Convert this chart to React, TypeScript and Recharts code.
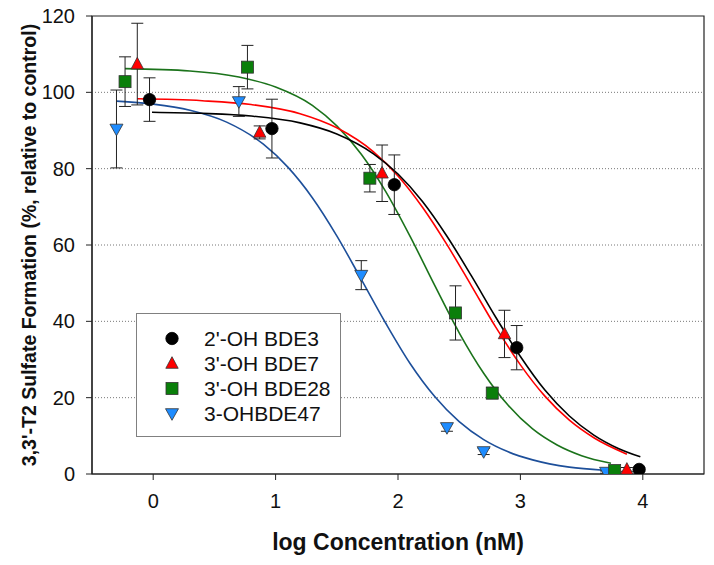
import React from 'react';
import {
  ComposedChart, Line, Scatter, XAxis, YAxis, ErrorBar, ReferenceLine, ReferenceArea,
} from 'recharts';

// ---- measured points ----
const bde3X = [-0.03, 0.97, 1.97, 2.97, 3.97];
const bde3Y = [98.1, 90.5, 75.8, 33.1, 1.2];
const bde3Err = [5.7, 7.7, 7.8, 5.8, 0.5];

const bde7X = [-0.13, 0.87, 1.87, 2.87, 3.87];
const bde7Y = [107.4, 89.5, 78.8, 36.7, 1.2];
const bde7Err = [10.7, 1.7, 7.4, 6.2, 0.5];

const bde28X = [-0.23, 0.77, 1.77, 2.47, 2.77, 3.77];
const bde28Y = [102.8, 106.6, 77.5, 42.2, 21.2, 0.9];
const bde28Err = [6.5, 5.7, 3.6, 7.1, 1.5, 0.5];

const bde47X = [-0.3, 0.7, 1.7, 2.4, 2.7, 3.7];
const bde47Y = [90.4, 97.6, 52.1, 12.2, 5.9, 0.5];
const bde47Err = [10.2, 3.9, 3.8, 1.0, 0.8, 0.3];

// ---- fitted curves ----
const fit3X = [-0.01, 0.4, 0.8, 1.2, 1.5, 1.8, 2.0, 2.2, 2.4, 2.6, 2.8, 3.0, 3.2, 3.4, 3.6, 3.8, 3.98];
const fit3Y = [94.8, 94.5, 93.8, 92.0, 89.1, 83.9, 78.6, 71.4, 62.3, 51.9, 41.0, 30.8, 22.0, 15.2, 10.2, 6.7, 4.5];

const fit7X = [-0.13, 0.4, 0.8, 1.2, 1.5, 1.8, 2.0, 2.2, 2.4, 2.6, 2.8, 3.0, 3.2, 3.4, 3.6, 3.87];
const fit7Y = [98.3, 97.8, 96.8, 94.4, 90.7, 84.4, 78.1, 69.9, 60.1, 49.3, 38.4, 28.6, 20.4, 14.1, 9.5, 5.2];

const fit28X = [-0.23, 0.3, 0.7, 1.0, 1.3, 1.5, 1.7, 1.9, 2.1, 2.3, 2.5, 2.7, 2.9, 3.1, 3.3, 3.5, 3.74];
const fit28Y = [106.2, 105.6, 104.0, 101.4, 96.6, 91.2, 83.8, 74.0, 62.2, 49.4, 37.0, 26.4, 18.0, 11.8, 7.6, 4.8, 2.8];

const fit47X = [-0.3, 0.0, 0.3, 0.6, 0.9, 1.1, 1.3, 1.5, 1.7, 1.9, 2.1, 2.3, 2.5, 2.7, 2.9, 3.1, 3.4, 3.68];
const fit47Y = [97.7, 96.9, 95.3, 92.2, 86.4, 80.4, 72.4, 62.4, 51.0, 39.5, 28.9, 20.3, 13.7, 9.0, 5.8, 3.7, 1.8, 1.0];

const xTicks = [0, 1, 2, 3, 4];
const yTicks = [0, 20, 40, 60, 80, 100, 120];
const gridValues = [20, 40, 60, 80, 100];

const seriesNames = ["2'-OH BDE3", "3'-OH BDE7", "3'-OH BDE28", '3-OHBDE47'];

const pts = (xs: number[], ys: number[], es: number[]) => xs.map((x, i) => ({ x, y: ys[i], err: es[i] }));
const curve = (xs: number[], ys: number[]) => xs.map((x, i) => ({ x, y: ys[i] }));

const C = {
  black: '#000000',
  red: '#ff0000',
  green: '#0a7f0a',
  greenLine: '#1b731b',
  blue: '#1e8cff',
  blueLine: '#1d4f9a',
};

const FONT = '"Liberation Sans", Arial, sans-serif';

const CircleShape = (p: any) => <circle cx={p.cx} cy={p.cy} r={6.2} fill={C.black} stroke="#000" strokeWidth={0.8} />;
const TriUpShape = (p: any) => (
  <polygon points={`${p.cx},${p.cy - 6.8} ${p.cx - 6.2},${p.cy + 4.8} ${p.cx + 6.2},${p.cy + 4.8}`} fill={C.red} stroke="#333" strokeWidth={0.8} />
);
const SquareShape = (p: any) => <rect x={p.cx - 6} y={p.cy - 6} width={12} height={12} fill={C.green} stroke="#333" strokeWidth={0.8} />;
const TriDownShape = (p: any) => (
  <polygon points={`${p.cx},${p.cy + 6.8} ${p.cx - 6.5},${p.cy - 4.8} ${p.cx + 6.5},${p.cy - 4.8}`} fill={C.blue} stroke="#333" strokeWidth={0.8} />
);

const legendIcons = [CircleShape, TriUpShape, SquareShape, TriDownShape];

const LegendBox = () => (
  <div
    style={{
      position: 'absolute', left: 136, top: 313,
      width: 205, height: 124, boxSizing: 'border-box', border: '1.5px solid #808080', background: '#fff',
      paddingTop: 12, fontFamily: FONT,
    }}
  >
    {seriesNames.map((n, i) => {
      const Icon = legendIcons[i];
      return (
        <div key={n} style={{ display: 'flex', alignItems: 'center', height: 25 }}>
          <svg width={67} height={25} style={{ flex: 'none' }}>
            <Icon cx={35} cy={12.5} />
          </svg>
          <span style={{ fontSize: 21, color: '#111', whiteSpace: 'nowrap' }}>{n}</span>
        </div>
      );
    })}
  </div>
);

const YTitle = (props: any) => {
  const vb = props.viewBox;
  const cx = 29;
  const cy = vb.y + vb.height / 2;
  return (
    <text x={cx} y={cy} transform={`rotate(-90 ${cx} ${cy})`} textAnchor="middle" dominantBaseline="central"
      style={{ fontFamily: FONT, fontWeight: 'bold', fontSize: 19.5, fill: '#111' }}>
      3,3'-T2 Sulfate Formation (%, relative to control)
    </text>
  );
};

const XTitle = (props: any) => {
  const vb = props.viewBox;
  const cx = vb.x + vb.width / 2;
  return (
    <text x={cx} y={550} textAnchor="middle"
      style={{ fontFamily: FONT, fontWeight: 'bold', fontSize: 23, fill: '#111' }}>
      log Concentration (nM)
    </text>
  );
};

export default function App() {
  return (
    <div style={{ position: 'absolute', left: 0, top: 0, width: 714, height: 565, background: '#fff' }}>
      <ComposedChart width={714} height={565} margin={{ top: 16, right: 10, bottom: 61, left: 0 }}>
        <XAxis
          dataKey="x" type="number" domain={[-0.5, 4.5]} ticks={xTicks} allowDataOverflow
          height={30} tickSize={6} tickMargin={14}
          axisLine={{ stroke: '#222', strokeWidth: 1.2 }} tickLine={{ stroke: '#222' }}
          tick={{ fontFamily: FONT, fontSize: 20, fill: '#111' }}
          label={<XTitle />}
        />
        <YAxis
          type="number" domain={[0, 120]} ticks={yTicks} allowDataOverflow
          width={92} tickSize={6} tickMargin={11}
          axisLine={{ stroke: '#222', strokeWidth: 1.2 }} tickLine={{ stroke: '#222' }}
          tick={{ fontFamily: FONT, fontSize: 20, fill: '#111' }}
          label={<YTitle />}
        />
        {gridValues.map((v) => (
          <ReferenceLine key={v} y={v} stroke="#777" strokeDasharray="1 2" strokeWidth={1} />
        ))}
        <ReferenceArea x1={-0.5} x2={4.5} y1={0} y2={120} fill="none" fillOpacity={0} stroke="#222" strokeWidth={1.2} ifOverflow="visible" />

        <Line data={curve(fit47X, fit47Y)} dataKey="y" type="monotone" stroke={C.blueLine} strokeWidth={1.6} dot={false} isAnimationActive={false} legendType="none" />
        <Line data={curve(fit28X, fit28Y)} dataKey="y" type="monotone" stroke={C.greenLine} strokeWidth={1.6} dot={false} isAnimationActive={false} legendType="none" />
        <Line data={curve(fit7X, fit7Y)} dataKey="y" type="monotone" stroke={C.red} strokeWidth={1.6} dot={false} isAnimationActive={false} legendType="none" />
        <Line data={curve(fit3X, fit3Y)} dataKey="y" type="monotone" stroke={C.black} strokeWidth={1.6} dot={false} isAnimationActive={false} legendType="none" />

        <Scatter name={seriesNames[3]} data={pts(bde47X, bde47Y, bde47Err)} dataKey="y" shape={TriDownShape} isAnimationActive={false}>
          <ErrorBar dataKey="err" direction="y" width={6} stroke="#222" strokeWidth={1} />
        </Scatter>
        <Scatter name={seriesNames[2]} data={pts(bde28X, bde28Y, bde28Err)} dataKey="y" shape={SquareShape} isAnimationActive={false}>
          <ErrorBar dataKey="err" direction="y" width={6} stroke="#222" strokeWidth={1} />
        </Scatter>
        <Scatter name={seriesNames[1]} data={pts(bde7X, bde7Y, bde7Err)} dataKey="y" shape={TriUpShape} isAnimationActive={false}>
          <ErrorBar dataKey="err" direction="y" width={6} stroke="#222" strokeWidth={1} />
        </Scatter>
        <Scatter name={seriesNames[0]} data={pts(bde3X, bde3Y, bde3Err)} dataKey="y" shape={CircleShape} isAnimationActive={false}>
          <ErrorBar dataKey="err" direction="y" width={6} stroke="#222" strokeWidth={1} />
        </Scatter>
      </ComposedChart>
      <LegendBox />
    </div>
  );
}
